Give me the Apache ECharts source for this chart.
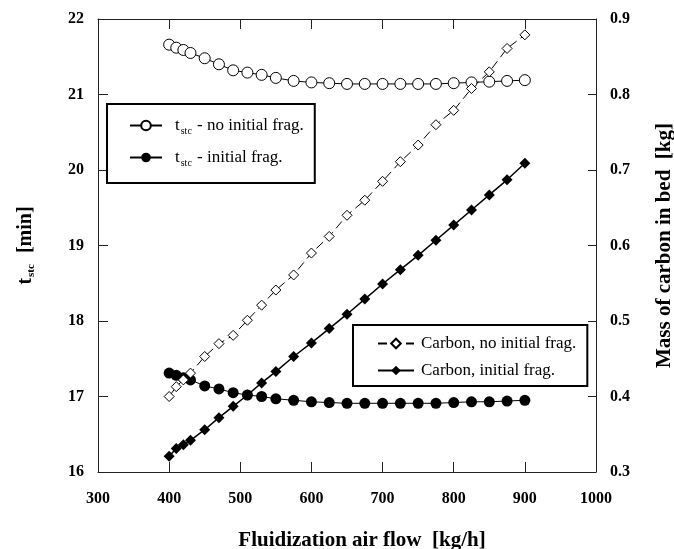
<!DOCTYPE html>
<html>
<head>
<meta charset="utf-8">
<script src="https://cdn.jsdelivr.net/npm/echarts@6/dist/echarts.min.js"></script>
<style>
  html, body { margin: 0; padding: 0; background: #fff; }
  #chart { width: 674px; height: 549px; }
</style>
</head>
<body>
<div id="chart"></div>
<script>
// air flow values shared by all four series [kg/h]
const airFlow = [400, 410, 420, 430, 450, 470, 490, 510, 530, 550, 575, 600, 625, 650, 675, 700, 725, 750, 775, 800, 825, 850, 875, 900]

// t_stc [min], left axis
const tstcNoFrag = [21.66, 21.62, 21.59, 21.55, 21.48, 21.40, 21.32, 21.29, 21.26, 21.22, 21.18, 21.16, 21.15, 21.14, 21.14, 21.14, 21.14, 21.14, 21.14, 21.15, 21.16, 21.17, 21.18, 21.19]
const tstcFrag = [17.31, 17.28, 17.25, 17.22, 17.14, 17.10, 17.05, 17.02, 17.00, 16.97, 16.95, 16.93, 16.92, 16.91, 16.91, 16.91, 16.91, 16.91, 16.91, 16.92, 16.93, 16.93, 16.94, 16.95]

// carbon in bed [kg], right axis
const carbonNoFrag = [0.400, 0.413, 0.422, 0.431, 0.453, 0.470, 0.481, 0.501, 0.521, 0.541, 0.561, 0.590, 0.612, 0.640, 0.660, 0.685, 0.711, 0.733, 0.760, 0.779, 0.808, 0.830, 0.861, 0.879]
const carbonFrag = [0.321, 0.331, 0.336, 0.342, 0.356, 0.372, 0.387, 0.402, 0.418, 0.433, 0.453, 0.471, 0.490, 0.509, 0.529, 0.549, 0.568, 0.587, 0.607, 0.627, 0.647, 0.667, 0.687, 0.709]

const FONT = '"Liberation Serif", "Times New Roman", serif'
const pairs = (ys) => airFlow.map((x, i) => [x, ys[i]])

const chart = echarts.init(document.getElementById('chart'))

const tickLabel = { fontFamily: FONT, fontSize: 16, fontWeight: 'bold', color: '#000' }
const axisLine = { lineStyle: { color: '#222', width: 1 } }

// legend text: "t_stc" with small subscript
const legendRich = {
  t: { fontFamily: FONT, fontSize: 17, color: '#000', padding: [0, 0, 0, 8] },
  s: { fontFamily: FONT, fontSize: 10, color: '#000', padding: [11, 1, 0, 1] },
  n: { fontFamily: FONT, fontSize: 17, color: '#000' },
  c: { fontFamily: FONT, fontSize: 17, color: '#000', padding: [0, 0, 0, 2] },
}
const tstcLegendFormat = (name) => '{t|t}{s|stc}{n|' + name.slice(5) + '}'
const carbonLegendFormat = (name) => '{c|' + name + '}'

chart.setOption({
  animation: false,
  grid: { left: 98, right: 78, top: 19, bottom: 77, outerBoundsMode: 'none' },
  xAxis: [
    {
      type: 'value', min: 300, max: 1000, interval: 100,
      name: 'Fluidization air flow  [kg/h]',
      nameLocation: 'middle', nameGap: 58,
      nameTextStyle: { fontFamily: FONT, fontSize: 21, fontWeight: 'bold', color: '#000', padding: [0, 0, 0, 30] },
      axisLine, splitLine: { show: false },
      axisTick: { inside: true, length: 10, lineStyle: { color: '#222' } },
      axisLabel: { ...tickLabel, margin: 19, formatter: (v) => String(v) },
    },
    {
      type: 'value', min: 300, max: 1000, interval: 100, position: 'top',
      axisLine, splitLine: { show: false },
      axisTick: { inside: true, length: 10, lineStyle: { color: '#222' } },
      axisLabel: { show: false },
    },
  ],
  yAxis: [
    {
      type: 'value', min: 16, max: 22, interval: 1,
      name: '{t|t}{s|stc}{m|  [min]}',
      nameLocation: 'middle', nameGap: 61, nameRotate: 90,
      nameTextStyle: {
        rich: {
          t: { fontFamily: FONT, fontSize: 20, fontWeight: 'bold', color: '#000' },
          s: { fontFamily: FONT, fontSize: 11, fontWeight: 'bold', color: '#000', padding: [12, 1, 0, 1] },
          m: { fontFamily: FONT, fontSize: 20, fontWeight: 'bold', color: '#000' },
        },
      },
      axisLine: { show: true, ...axisLine }, splitLine: { show: false },
      axisTick: { inside: true, length: 10, lineStyle: { color: '#222' } },
      axisLabel: { ...tickLabel, margin: 14 },
    },
    {
      type: 'value', min: 0.3, max: 0.9, interval: 0.1, position: 'right',
      name: 'Mass of carbon in bed  [kg]',
      nameLocation: 'middle', nameGap: 58, nameRotate: 90,
      nameTextStyle: { fontFamily: FONT, fontSize: 21, fontWeight: 'bold', color: '#000' },
      axisLine: { show: true, ...axisLine }, splitLine: { show: false },
      axisTick: { inside: true, length: 8, lineStyle: { color: '#222' } },
      axisLabel: { ...tickLabel, margin: 14, formatter: (v) => v.toFixed(1) },
    },
  ],
  legend: [
    {
      data: ['t_stc - no initial frag.', 't_stc - initial frag.'],
      orient: 'vertical', left: 107, top: 104,
      padding: [13, 11, 15, 22], itemGap: 13,
      itemWidth: 32, itemHeight: 12,
      borderColor: '#000', borderWidth: 2, borderRadius: 0,
      backgroundColor: '#fff',
      formatter: tstcLegendFormat,
      textStyle: { rich: legendRich },
    },
    {
      data: ['Carbon, no initial frag.', 'Carbon, initial frag.'],
      orient: 'vertical', left: 353, top: 325,
      padding: [10, 11, 7, 24], itemGap: 10,
      itemWidth: 36, itemHeight: 12,
      borderColor: '#000', borderWidth: 2, borderRadius: 0,
      backgroundColor: '#fff',
      formatter: carbonLegendFormat,
      textStyle: { rich: legendRich },
    },
  ],
  series: [
    {
      name: 't_stc - no initial frag.', type: 'line', yAxisIndex: 0,
      data: pairs(tstcNoFrag),
      symbol: 'circle', symbolSize: 11,
      lineStyle: { color: '#000', width: 1 },
      itemStyle: { color: '#fff', borderColor: '#000', borderWidth: 1 },
    },
    {
      name: 't_stc - initial frag.', type: 'line', yAxisIndex: 0,
      data: pairs(tstcFrag),
      symbol: 'circle', symbolSize: 11,
      lineStyle: { color: '#000', width: 1 },
      itemStyle: { color: '#000' },
    },
    {
      name: 'Carbon, no initial frag.', type: 'line', yAxisIndex: 1,
      data: pairs(carbonNoFrag),
      symbol: 'diamond', symbolSize: 10,
      lineStyle: { color: '#000', width: 1, type: [9, 5] },
      itemStyle: { color: '#fff', borderColor: '#000', borderWidth: 1 },
    },
    {
      name: 'Carbon, initial frag.', type: 'line', yAxisIndex: 1,
      data: pairs(carbonFrag),
      symbol: 'diamond', symbolSize: 11,
      lineStyle: { color: '#000', width: 1.5 },
      itemStyle: { color: '#000' },
    },
  ],
})
</script>
</body>
</html>
